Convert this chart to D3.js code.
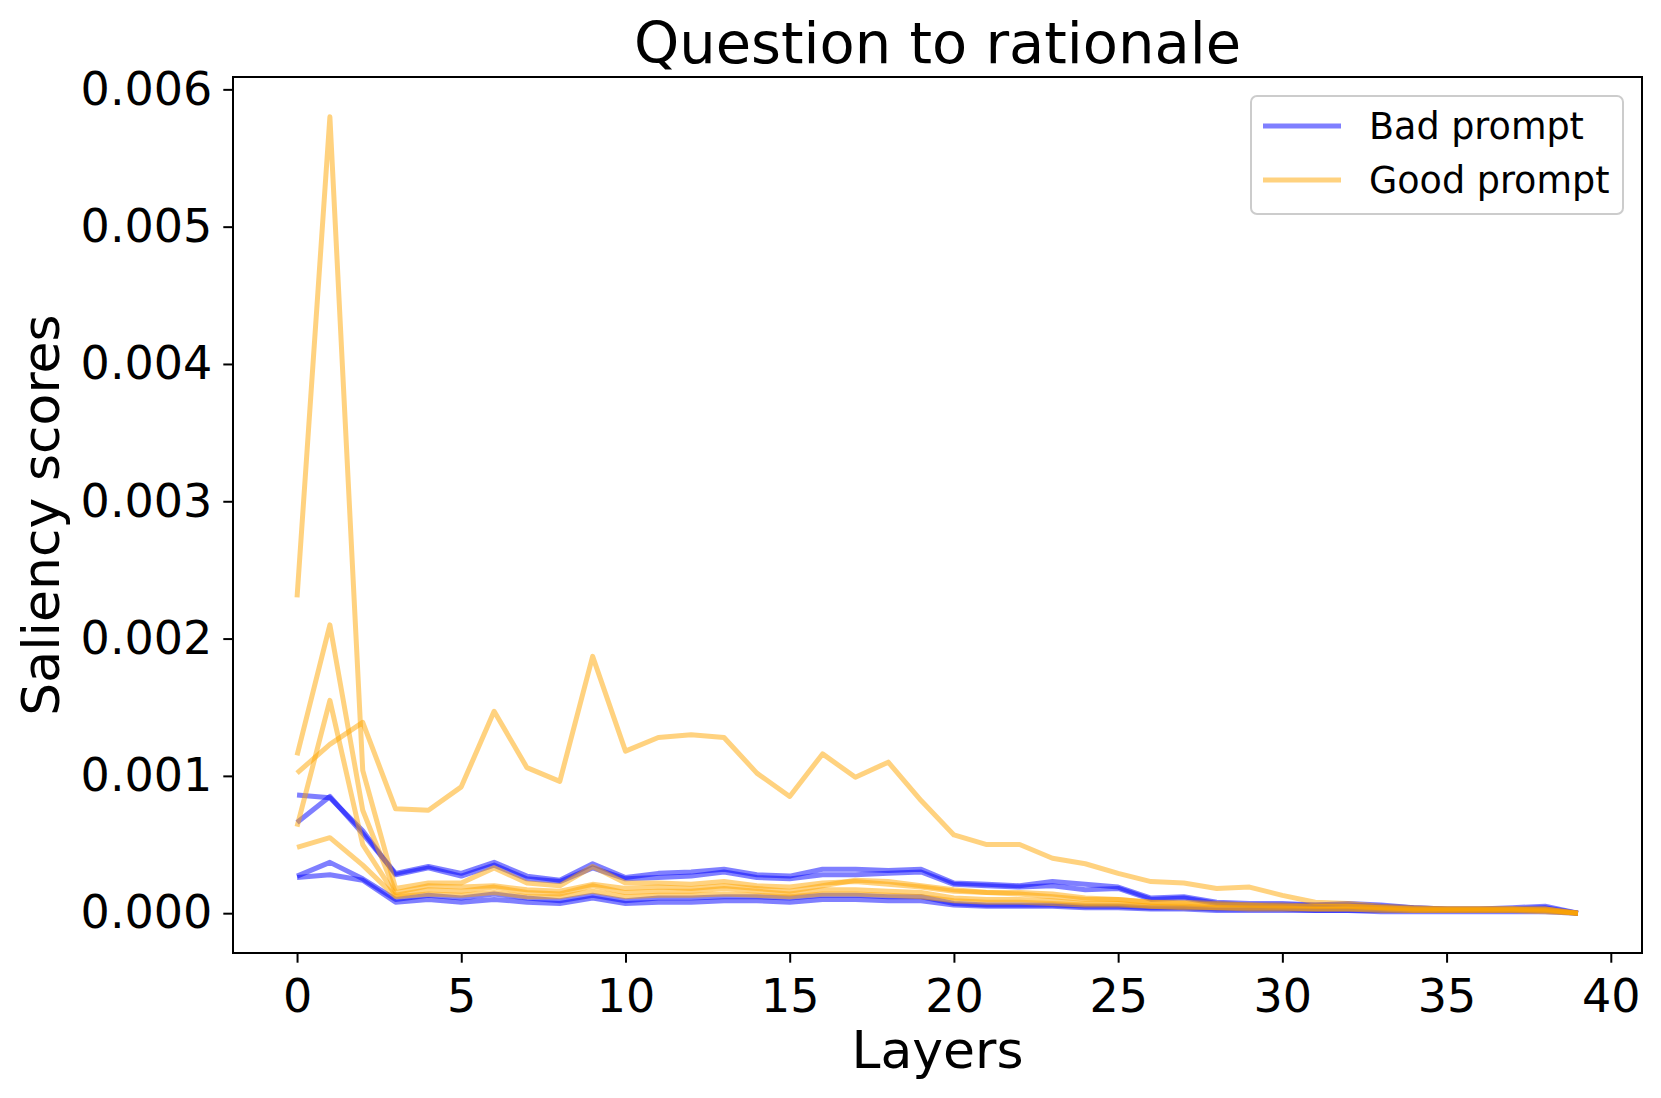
<!DOCTYPE html>
<html>
<head>
<meta charset="utf-8">
<script src="https://cdn.jsdelivr.net/npm/d3@7"></script>
<style>
  body { margin: 0; background: #fff; }
  text { font-family: "DejaVu Sans", sans-serif; fill: #000; }
</style>
</head>
<body>
<div class="chart"></div>
<script>
// layer index on the x axis
var layers = [0, 1, 2, 3, 4, 5, 6, 7, 8, 9, 10, 11, 12, 13, 14, 15, 16, 17, 18, 19,
    20, 21, 22, 23, 24, 25, 26, 27, 28, 29, 30, 31, 32, 33, 34, 35, 36, 37, 38, 39];

// "Bad prompt" runs
var bad1 = [0.00086, 0.00084, 0.00060, 0.00028, 0.00033, 0.00027, 0.00035, 0.00025, 0.00023, 0.00033,
    0.00025, 0.00026, 0.00027, 0.00030, 0.00026, 0.00025, 0.00028, 0.00028, 0.00029, 0.00030,
    0.00021, 0.00020, 0.00019, 0.00020, 0.00017, 0.00018, 0.00010, 0.00011, 0.00007, 0.00006,
    0.00006, 0.00006, 0.00006, 0.00005, 0.00004, 0.00003, 0.00003, 0.00003, 0.00004, 0.0];
var bad2 = [0.00066, 0.00085, 0.00058, 0.00029, 0.00034, 0.00029, 0.00037, 0.00027, 0.00024, 0.00036,
    0.00026, 0.00029, 0.00030, 0.00032, 0.00028, 0.00027, 0.00032, 0.00032, 0.00031, 0.00032,
    0.00022, 0.00021, 0.00020, 0.00023, 0.00021, 0.00019, 0.00011, 0.00012, 0.00008, 0.00007,
    0.00007, 0.00006, 0.00007, 0.00006, 0.00004, 0.00003, 0.00003, 0.00004, 0.00005, 0.0];
var bad3 = [0.00027, 0.00037, 0.00025, 0.00010, 0.00013, 0.00011, 0.00014, 0.00011, 0.00009, 0.00013,
    0.00009, 0.00011, 0.00011, 0.00012, 0.00012, 0.00011, 0.00013, 0.00013, 0.00012, 0.00012,
    0.00007, 0.00006, 0.00006, 0.00006, 0.00005, 0.00005, 0.00004, 0.00004, 0.00003, 0.00003,
    0.00003, 0.00002, 0.00002, 0.00002, 0.00002, 0.00002, 0.00002, 0.00002, 0.00002, 0.0];
var bad4 = [0.00026, 0.00028, 0.00024, 0.00008, 0.00010, 0.00008, 0.00010, 0.00008, 0.00007, 0.00011,
    0.00007, 0.00008, 0.00008, 0.00009, 0.00009, 0.00008, 0.00010, 0.00010, 0.00009, 0.00009,
    0.00006, 0.00005, 0.00005, 0.00005, 0.00004, 0.00004, 0.00003, 0.00003, 0.00002, 0.00002,
    0.00002, 0.00002, 0.00002, 0.00001, 0.00001, 0.00001, 0.00001, 0.00001, 0.00001, 0.0];

// "Good prompt" runs
var good1 = [0.00230, 0.00580, 0.00104, 0.00018, 0.00022, 0.00022, 0.00033, 0.00022, 0.00020, 0.00034,
    0.00022, 0.00022, 0.00021, 0.00023, 0.00020, 0.00019, 0.00022, 0.00023, 0.00021, 0.00019,
    0.00016, 0.00015, 0.00015, 0.00014, 0.00011, 0.00010, 0.00008, 0.00008, 0.00007, 0.00006,
    0.00006, 0.00005, 0.00005, 0.00004, 0.00003, 0.00003, 0.00003, 0.00003, 0.00002, 0.0];
var good2 = [0.00115, 0.00210, 0.00075, 0.00015, 0.00020, 0.00019, 0.00020, 0.00017, 0.00016, 0.00021,
    0.00018, 0.00019, 0.00018, 0.00020, 0.00018, 0.00016, 0.00020, 0.00024, 0.00023, 0.00020,
    0.00017, 0.00015, 0.00014, 0.00012, 0.00010, 0.00010, 0.00008, 0.00007, 0.00006, 0.00006,
    0.00005, 0.00005, 0.00005, 0.00004, 0.00003, 0.00003, 0.00003, 0.00003, 0.00003, 0.0];
var good3 = [0.00102, 0.00123, 0.00139, 0.00076, 0.00075, 0.00092, 0.00147, 0.00106, 0.00096, 0.00187,
    0.00118, 0.00128, 0.00130, 0.00128, 0.00102, 0.00085, 0.00116, 0.00099, 0.00110, 0.00082,
    0.00057, 0.00050, 0.00050, 0.00040, 0.00036, 0.00029, 0.00023, 0.00022, 0.00018, 0.00019,
    0.00013, 0.00008, 0.00007, 0.00005, 0.00004, 0.00003, 0.00003, 0.00003, 0.00003, 0.0];
var good4 = [0.00063, 0.00155, 0.00050, 0.00013, 0.00017, 0.00016, 0.00019, 0.00015, 0.00014, 0.00020,
    0.00015, 0.00016, 0.00016, 0.00018, 0.00016, 0.00014, 0.00017, 0.00017, 0.00016, 0.00015,
    0.00011, 0.00010, 0.00010, 0.00009, 0.00007, 0.00007, 0.00005, 0.00005, 0.00004, 0.00004,
    0.00004, 0.00003, 0.00003, 0.00003, 0.00002, 0.00002, 0.00002, 0.00002, 0.00002, 0.0];
var good5 = [0.00048, 0.00055, 0.00035, 0.00012, 0.00014, 0.00013, 0.00015, 0.00012, 0.00012, 0.00016,
    0.00012, 0.00013, 0.00013, 0.00014, 0.00013, 0.00012, 0.00014, 0.00014, 0.00013, 0.00012,
    0.00009, 0.00008, 0.00008, 0.00007, 0.00006, 0.00006, 0.00005, 0.00004, 0.00004, 0.00003,
    0.00003, 0.00003, 0.00003, 0.00002, 0.00002, 0.00002, 0.00002, 0.00002, 0.00001, 0.0];

var badRuns = [bad1, bad2, bad3, bad4];
var goodRuns = [good1, good2, good3, good4, good5];

var xTicks = [0, 5, 10, 15, 20, 25, 30, 35, 40];
var yTicks = [0, 0.001, 0.002, 0.003, 0.004, 0.005, 0.006];
var legendLabels = ['Bad prompt', 'Good prompt'];
var colors = ['blue', 'orange'];

var W = 1661, H = 1098;
var margin = { top: 77, right: 19, bottom: 145, left: 233 };
var width = W - margin.left - margin.right;
var height = H - margin.top - margin.bottom;

var svg = d3.select('.chart')
    .append('svg')
    .attr('width', W)
    .attr('height', H);

var g = svg.append('g')
    .attr('transform', `translate(${margin.left},${margin.top})`);

var xScale = d3.scaleLinear()
    .domain([-1.95, 40.95])
    .range([0, width]);

var yScale = d3.scaleLinear()
    .domain([-0.00029, 0.00609])
    .range([height, 0]);

var line = d3.line()
    .x((d, i) => xScale(layers[i]))
    .y(d => yScale(d));

// blue first, orange drawn over it
badRuns.forEach(run => {
    g.append('path')
        .attr('d', line(run))
        .attr('fill', 'none')
        .attr('stroke', colors[0])
        .attr('stroke-opacity', 0.5)
        .attr('stroke-width', 5)
        .attr('stroke-linejoin', 'round');
});
goodRuns.forEach(run => {
    g.append('path')
        .attr('d', line(run))
        .attr('fill', 'none')
        .attr('stroke', colors[1])
        .attr('stroke-opacity', 0.5)
        .attr('stroke-width', 5)
        .attr('stroke-linejoin', 'round');
});

var xAxis = d3.axisBottom(xScale)
    .tickValues(xTicks)
    .tickFormat(d3.format('d'))
    .tickSize(9.7)
    .tickPadding(17);

var yAxis = d3.axisLeft(yScale)
    .tickValues(yTicks)
    .tickFormat(d3.format('.3f'))
    .tickSize(9.7)
    .tickPadding(11);

var gx = g.append('g')
    .attr('transform', `translate(0,${height})`)
    .call(xAxis);
var gy = g.append('g').call(yAxis);

[gx, gy].forEach(a => {
    a.select('.domain').remove();
    a.selectAll('line').attr('stroke', '#000').attr('stroke-width', 2);
    a.selectAll('text')
        .style('font-family', '"DejaVu Sans", sans-serif')
        .style('font-size', '46px')
        .attr('fill', '#000');
});

// spines
g.append('rect')
    .attr('width', width)
    .attr('height', height)
    .attr('fill', 'none')
    .attr('stroke', '#000')
    .attr('stroke-width', 2);

// titles
svg.append('text')
    .attr('x', margin.left + width / 2)
    .attr('y', 63)
    .attr('text-anchor', 'middle')
    .style('font-size', '57.5px')
    .text('Question to rationale');

svg.append('text')
    .attr('x', margin.left + width / 2)
    .attr('y', 1068)
    .attr('text-anchor', 'middle')
    .style('font-size', '52px')
    .text('Layers');

svg.append('text')
    .attr('transform', `translate(59,${margin.top + height / 2}) rotate(-90)`)
    .attr('text-anchor', 'middle')
    .style('font-size', '52px')
    .text('Saliency scores');

// legend
var legend = svg.append('g')
    .attr('transform', 'translate(1251,96)');

legend.append('rect')
    .attr('width', 372)
    .attr('height', 118)
    .attr('rx', 6)
    .attr('fill', '#fff')
    .attr('fill-opacity', 0.8)
    .attr('stroke', '#ccc')
    .attr('stroke-width', 2);

legendLabels.forEach((label, i) => {
    var yy = 30 + i * 54;
    legend.append('line')
        .attr('x1', 12).attr('x2', 90)
        .attr('y1', yy).attr('y2', yy)
        .attr('stroke', colors[i])
        .attr('stroke-opacity', 0.5)
        .attr('stroke-width', 5);
    legend.append('text')
        .attr('x', 118)
        .attr('y', yy + 13)
        .style('font-size', '36.5px')
        .text(label);
});
</script>
</body>
</html>
